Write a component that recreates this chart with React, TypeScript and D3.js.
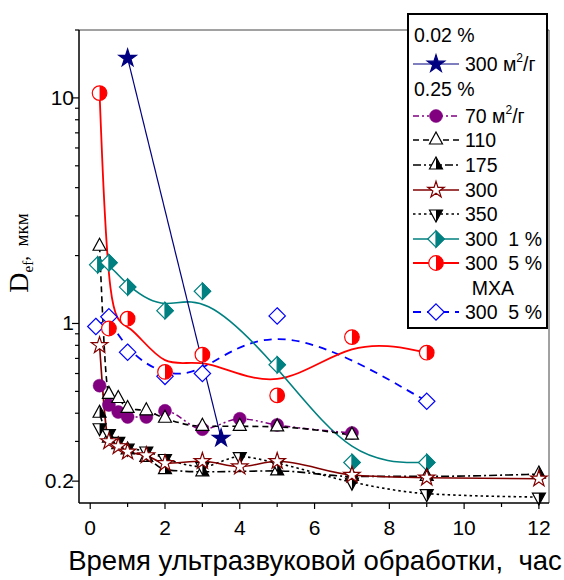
import React from "react";
import * as d3 from "d3";

// ---- data ----
const tStar002 = [1, 3.5];
const vStar002 = [15, 0.31];

const t70 = [0.25, 0.5, 0.75, 1, 1.5, 2, 3, 4, 5, 7];
const v70 = [0.53, 0.435, 0.405, 0.385, 0.385, 0.41, 0.34, 0.378, 0.355, 0.327];

const t110 = [0.25, 0.5, 0.75, 1, 1.5, 2, 3, 4, 5, 7];
const v110 = [2.2, 0.485, 0.465, 0.42, 0.41, 0.38, 0.35, 0.35, 0.348, 0.32];

const t175 = [0.25, 0.5, 0.75, 1, 1.5, 2, 3, 5, 7, 9, 12];
const v175 = [0.4, 0.31, 0.29, 0.275, 0.255, 0.225, 0.22, 0.222, 0.21, 0.21, 0.215];

const t300 = [0.25, 0.5, 0.75, 1, 1.5, 2, 3, 4, 5, 7, 9, 12];
const v300 = [0.8, 0.3, 0.285, 0.27, 0.26, 0.24, 0.245, 0.232, 0.245, 0.213, 0.207, 0.205];

const t350 = [0.25, 0.5, 0.75, 1, 1.5, 2, 3, 4, 5, 7, 9, 12];
const v350 = [0.345, 0.325, 0.3, 0.28, 0.272, 0.252, 0.232, 0.257, 0.24, 0.198, 0.176, 0.17];

const tTeal = [0.2, 0.5, 1, 2, 3, 5, 7, 9];
const vTeal = [1.82, 1.86, 1.45, 1.14, 1.39, 0.656, 0.242, 0.242];

const tRed = [0.25, 0.5, 1, 2, 3, 5, 7, 9];
const vRed = [10.5, 0.95, 1.05, 0.61, 0.727, 0.48, 0.87, 0.742];

const tBlue = [0.15, 0.5, 1, 2, 3, 5, 9];
const vBlue = [0.97, 1.07, 0.746, 0.583, 0.6, 1.08, 0.452];

const xTicks = [0, 2, 4, 6, 8, 10, 12];
const xMinor = [1, 3, 5, 7, 9, 11];
const yTickLabels = [10, 1, 0.2];
const yMinor = [0.3, 0.4, 0.5, 0.6, 0.7, 0.8, 0.9, 2, 3, 4, 5, 6, 7, 8, 9, 20];

type MarkerKind = "star" | "circle" | "triOpen" | "triUpHalf" | "triDownHalf" | "diamondHalf" | "circleHalf" | "diamondOpen";

interface Series {
  t: number[];
  v: number[];
  color: string;
  dash?: string;
  width: number;
  curve: d3.CurveFactory;
  marker: MarkerKind;
  label: string;
  sup?: boolean;
}

const series: Series[] = [
  { t: t70, v: v70, color: "#800080", dash: "6,3,2,3,2,3", width: 1.5, curve: d3.curveMonotoneX, marker: "circle", label: "70 м", sup: true },
  { t: t110, v: v110, color: "#000", dash: "6,4", width: 1.6, curve: d3.curveMonotoneX, marker: "triOpen", label: "110" },
  { t: t175, v: v175, color: "#000", dash: "8,3,2,3", width: 1.6, curve: d3.curveMonotoneX, marker: "triUpHalf", label: "175" },
  { t: t300, v: v300, color: "#800000", width: 1.6, curve: d3.curveMonotoneX, marker: "star", label: "300" },
  { t: t350, v: v350, color: "#000", dash: "2.5,3", width: 1.6, curve: d3.curveMonotoneX, marker: "triDownHalf", label: "350" },
  { t: tTeal, v: vTeal, color: "#008080", width: 1.6, curve: d3.curveBasis, marker: "diamondHalf", label: "300\u00a0\u00a01 %" },
  { t: tRed, v: vRed, color: "#FF0000", width: 1.8, curve: d3.curveBasis, marker: "circleHalf", label: "300\u00a0\u00a05 %" },
  { t: tBlue, v: vBlue, color: "#0000FF", dash: "8,6", width: 1.8, curve: d3.curveBasis, marker: "diamondOpen", label: "300\u00a0\u00a05 %" },
];

const starSeries: Series = { t: tStar002, v: vStar002, color: "#000080", width: 1.2, curve: d3.curveLinear, marker: "star", label: "300 м", sup: true };

const W = 564, H = 580;
const L = 79, R = 549, T = 30, B = 503;

const x = d3.scaleLinear().domain([-0.3, 12.27]).range([L, R]);
const y = d3.scaleLog().domain([0.16, 20]).range([B, T]);

const font = "'Liberation Sans', Arial, sans-serif";
const serif = "'Liberation Serif', 'Times New Roman', serif";

function Marker({ kind, cx, cy, color, navyFill }: { kind: MarkerKind; cx: number; cy: number; color: string; navyFill?: boolean }) {
  const sw = 1.2;
  if (kind === "star") {
    const d = d3.symbol().type(d3.symbolStar).size(navyFill ? 95 : 85)();
    return <path d={d || ""} transform={`translate(${cx},${cy})`} fill={navyFill ? color : "#fff"} stroke={color} strokeWidth={sw} />;
  }
  if (kind === "circle") {
    return <circle cx={cx} cy={cy} r={6.5} fill={color} stroke={color} strokeWidth={0.5} />;
  }
  if (kind === "circleHalf") {
    const r = 7.3;
    return (
      <g>
        <circle cx={cx} cy={cy} r={r} fill="#fff" stroke={color} strokeWidth={sw} />
        <path d={`M${cx},${cy - r} A${r},${r} 0 0 1 ${cx},${cy + r} Z`} fill={color} />
      </g>
    );
  }
  if (kind === "diamondOpen" || kind === "diamondHalf") {
    const r = 8.2;
    const pts = `${cx},${cy - r} ${cx + r},${cy} ${cx},${cy + r} ${cx - r},${cy}`;
    return (
      <g>
        <polygon points={pts} fill="#fff" stroke={color} strokeWidth={sw} />
        {kind === "diamondHalf" && <polygon points={`${cx},${cy - r} ${cx + r},${cy} ${cx},${cy + r}`} fill={color} stroke={color} strokeWidth={sw} />}
      </g>
    );
  }
  const w = 13, h = 12;
  if (kind === "triDownHalf") {
    const pts = `${cx - w / 2},${cy - h / 3} ${cx + w / 2},${cy - h / 3} ${cx},${cy + (2 * h) / 3}`;
    return (
      <g>
        <polygon points={pts} fill="#fff" stroke={color} strokeWidth={sw} />
        <polygon points={`${cx},${cy - h / 3} ${cx + w / 2},${cy - h / 3} ${cx},${cy + (2 * h) / 3}`} fill={color} />
      </g>
    );
  }
  const pts = `${cx},${cy - (2 * h) / 3} ${cx + w / 2},${cy + h / 3} ${cx - w / 2},${cy + h / 3}`;
  return (
    <g>
      <polygon points={pts} fill="#fff" stroke={color} strokeWidth={sw} />
      {kind === "triUpHalf" && <polygon points={`${cx},${cy - (2 * h) / 3} ${cx + w / 2},${cy + h / 3} ${cx},${cy + h / 3}`} fill={color} />}
    </g>
  );
}

function SeriesLine({ s }: { s: Series }) {
  const pts: [number, number][] = s.t.map((t, i) => [x(t), y(s.v[i])]);
  const d = d3.line().curve(s.curve)(pts) || "";
  return <path d={d} fill="none" stroke={s.color} strokeWidth={s.width} strokeDasharray={s.dash} />;
}

function SeriesMarkers({ s, navy }: { s: Series; navy?: boolean }) {
  return (
    <g>
      {s.t.map((t, i) => (
        <Marker key={i} kind={s.marker} cx={x(t)} cy={y(s.v[i])} color={s.color} navyFill={navy} />
      ))}
    </g>
  );
}

export default function App() {
  const legendX = 408, legendY = 14, legendW = 139, legendH = 314;
  const lx0 = 413, lx1 = 459, lmid = 436, tx = 465;
  const fs = 19.5;
  const rowY = [35, 64, 89, 116, 140, 165, 190, 214, 239, 263, 288, 312];
  const drawOrder = [series[7], series[6], series[5], series[0], series[1], series[2], series[4], series[3]];
  return (
    <svg width={W} height={H} style={{ position: "absolute", left: 0, top: 0, background: "#fff" }} fontFamily={font}>
      <rect x={0} y={0} width={W} height={H} fill="#fff" />
      <line x1={L} y1={T} x2={R} y2={T} stroke="#444" strokeWidth={1} />
      <line x1={R} y1={T} x2={R} y2={B} stroke="#444" strokeWidth={1} />
      <g>
        {drawOrder.map((s, i) => (
          <SeriesLine key={i} s={s} />
        ))}
        <SeriesLine s={starSeries} />
      </g>
      <g>
        {drawOrder.map((s, i) => (
          <SeriesMarkers key={i} s={s} />
        ))}
        <SeriesMarkers s={starSeries} navy />
      </g>
      <line x1={L} y1={T} x2={L} y2={B} stroke="#000" strokeWidth={1.5} />
      <line x1={L} y1={B} x2={R} y2={B} stroke="#000" strokeWidth={1.5} />
      {xTicks.map((t) => (
        <g key={"xt" + t}>
          <line x1={x(t)} x2={x(t)} y1={B} y2={B + 6} stroke="#000" strokeWidth={1.2} />
          <text x={x(t)} y={535} textAnchor="middle" fontSize={21}>
            {t}
          </text>
        </g>
      ))}
      {xMinor.map((t) => (
        <line key={"xm" + t} x1={x(t)} x2={x(t)} y1={B} y2={B + 4} stroke="#000" strokeWidth={1.2} />
      ))}
      {yTickLabels.map((v) => (
        <g key={"yt" + v}>
          <line x1={L - 7} x2={L} y1={y(v)} y2={y(v)} stroke="#000" strokeWidth={1.2} />
          <text x={L - 5} y={y(v) + 7} textAnchor="end" fontSize={21}>
            {v}
          </text>
        </g>
      ))}
      {yMinor.map((v) => (
        <line key={"ym" + v} x1={L - 4} x2={L} y1={y(v)} y2={y(v)} stroke="#000" strokeWidth={1.2} />
      ))}
      <text x={315} y={570} textAnchor="middle" fontSize={27.5}>
        {"Время ультразвуковой обработки,\u00a0 час"}
      </text>
      <text transform="translate(28,253) rotate(-90)" textAnchor="middle" fontFamily={serif}>
        <tspan fontSize={28}>D</tspan>
        <tspan fontSize={15} dy={5}>ef</tspan>
        <tspan fontSize={19} dy={-5}>{",\u00a0 мкм"}</tspan>
      </text>
      <rect x={legendX} y={legendY} width={legendW} height={legendH} fill="#fff" stroke="#000" strokeWidth={2} />
      <text x={414} y={rowY[0] + 7} fontSize={fs}>0.02 %</text>
      <g>
        <line x1={lx0} x2={lx1} y1={rowY[1]} y2={rowY[1]} stroke={starSeries.color} strokeWidth={starSeries.width} />
        <Marker kind={starSeries.marker} cx={lmid} cy={rowY[1]} color={starSeries.color} navyFill />
        <text x={tx} y={rowY[1] + 7} fontSize={fs}>
          {starSeries.label}
          <tspan fontSize={12} dy={-9}>2</tspan>
          <tspan dy={9}>/г</tspan>
        </text>
      </g>
      <text x={414} y={rowY[2] + 7} fontSize={fs}>0.25 %</text>
      {series.map((s, i) => {
        const ry = i < 7 ? rowY[3 + i] : rowY[11];
        return (
          <g key={"lg" + i}>
            <line x1={lx0} x2={lx1} y1={ry} y2={ry} stroke={s.color} strokeWidth={s.width} strokeDasharray={s.dash} />
            <Marker kind={s.marker} cx={lmid} cy={ry} color={s.color} />
            <text x={tx} y={ry + 7} fontSize={fs}>
              {s.sup ? (
                <>
                  {s.label}
                  <tspan fontSize={12} dy={-9}>2</tspan>
                  <tspan dy={9}>/г</tspan>
                </>
              ) : (
                s.label
              )}
            </text>
          </g>
        );
      })}
      <text x={493} y={rowY[10] + 7} fontSize={fs} textAnchor="middle">МХА</text>
    </svg>
  );
}
